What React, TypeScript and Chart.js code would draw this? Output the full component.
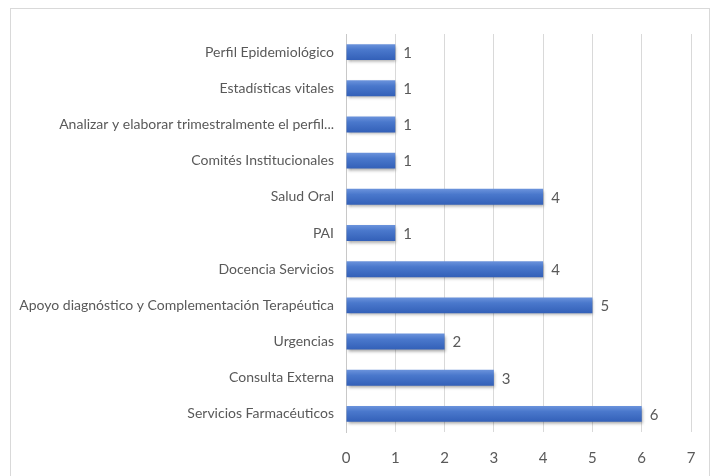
import React, { useEffect, useRef } from "react";
import { Chart, registerables } from "chart.js";

Chart.register(...registerables);

const categories = [
  "Perfil Epidemiológico",
  "Estadísticas vitales",
  "Analizar y elaborar trimestralmente el perfil...",
  "Comités Institucionales",
  "Salud Oral",
  "PAI",
  "Docencia Servicios",
  "Apoyo diagnóstico y Complementación Terapéutica",
  "Urgencias",
  "Consulta Externa",
  "Servicios Farmacéuticos",
];
const values = [1, 1, 1, 1, 4, 1, 4, 5, 2, 3, 6];
const xTicks = [0, 1, 2, 3, 4, 5, 6, 7];

const FONT = "Lato, 'Liberation Sans', Arial, sans-serif";
const TEXT = "#595959";

export default function App() {
  const ref = useRef<HTMLCanvasElement>(null);

  useEffect(() => {
    document.body.style.margin = "0";
    const canvas = ref.current!;
    const BAR_FRAC = 0.44;

    const shadowPlugin = {
      id: "shadow",
      beforeDatasetsDraw(chart: any) {
        const c = chart.ctx;
        c.save();
        c.shadowColor = "rgba(0,0,0,0.35)";
        c.shadowBlur = 3;
        c.shadowOffsetX = 1;
        c.shadowOffsetY = 2;
      },
      afterDatasetsDraw(chart: any) {
        chart.ctx.restore();
        const c = chart.ctx;
        const meta = chart.getDatasetMeta(0);
        c.save();
        c.font = `15px ${FONT}`;
        c.fillStyle = TEXT;
        c.textAlign = "left";
        c.textBaseline = "middle";
        meta.data.forEach((el: any, i: number) => {
          c.fillText(String(values[i]), el.x + 8, el.y + 1);
        });
        c.restore();
      },
    };

    const chart = new Chart(canvas, {
      type: "bar",
      data: {
        labels: categories,
        datasets: [
          {
            data: values,
            backgroundColor: (ctx: any) => {
              const ch = ctx.chart;
              const ys = ch.scales?.y;
              if (!ys || ctx.dataIndex === undefined) return "#4472c4";
              const cy = ys.getPixelForValue(ctx.dataIndex);
              const h = (ys.height / categories.length) * BAR_FRAC;
              if (!isFinite(cy) || !isFinite(h) || h <= 0) return "#4472c4";
              const g = ch.ctx.createLinearGradient(0, cy - h / 2, 0, cy + h / 2);
              g.addColorStop(0, "#6b93dc");
              g.addColorStop(0.35, "#4a78cc");
              g.addColorStop(1, "#3360b8");
              return g;
            },
            borderWidth: 0,
            categoryPercentage: 1,
            barPercentage: BAR_FRAC,
          },
        ],
      },
      options: {
        indexAxis: "y",
        animation: false,
        responsive: false,
        maintainAspectRatio: false,
        layout: { padding: { top: 34, right: 26, left: 0, bottom: 0 } },
        plugins: {
          legend: { display: false },
          tooltip: { enabled: false },
          title: { display: false },
        },
        scales: {
          x: {
            min: 0,
            max: 7,
            afterBuildTicks: (s: any) => {
              s.ticks = xTicks.map((v) => ({ value: v }));
            },
            afterFit: (s: any) => {
              s.height = 44;
            },
            grid: { color: "#d9d9d9", drawTicks: false, lineWidth: 1 },
            border: { display: false },
            ticks: {
              padding: 17,
              color: TEXT,
              font: { family: FONT, size: 15 },
            },
          },
          y: {
            afterFit: (s: any) => {
              s.width = 346;
            },
            grid: { display: false, drawTicks: false },
            border: { display: true, color: "#c8c8c8" },
            ticks: {
              padding: 12,
              color: TEXT,
              autoSkip: false,
              font: { family: FONT, size: 14 },
            },
          },
        },
      },
      plugins: [shadowPlugin],
    });
    return () => chart.destroy();
  }, []);

  return (
    <div style={{ position: "relative", width: 717, height: 476, overflow: "hidden", background: "#fff" }}>
      <div
        style={{
          position: "absolute",
          left: 10,
          top: 8,
          width: 700,
          height: 490,
          border: "1px solid #d9d9d9",
          boxSizing: "border-box",
        }}
      />
      <canvas ref={ref} width={717} height={476} style={{ position: "absolute", left: 0, top: 0 }} />
    </div>
  );
}
